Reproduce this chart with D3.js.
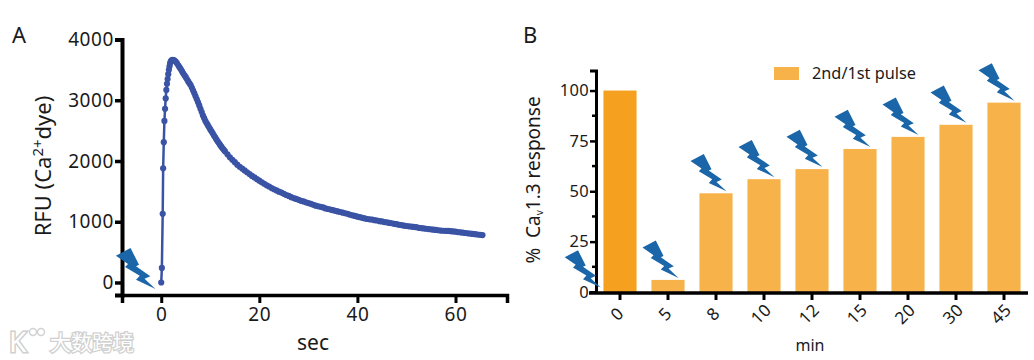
<!DOCTYPE html>
<html>
<head>
<meta charset="utf-8">
<script src="https://cdnjs.cloudflare.com/ajax/libs/d3/7.8.5/d3.min.js"></script>
<style>
	html, body { margin: 0; padding: 0; background: #fff; }
	svg { display: block; }
	text { font-family: "Noto Sans", sans-serif; fill: #1a1a1a; }
</style>
</head>
<body>
<div id="chart"></div>
<script>
// panel A, calcium trace
const traceTime = [0, 0.13, 0.3, 0.39, 0.52, 0.65, 0.78, 0.91, 1.04, 1.17, 1.3, 1.43, 1.56, 1.69, 1.82, 1.95, 2.1, 2.3, 2.6, 2.9,
	3.2, 3.5, 3.75, 4, 4.25, 4.5, 4.75, 5, 5.25, 5.5, 5.75, 6, 6.25, 6.5, 6.75, 7, 7.25, 7.5, 7.75, 8, 8.25, 8.5, 8.75, 9, 9.25, 9.5, 9.75, 10,
	10.25, 10.5, 10.75, 11, 11.25, 11.5, 11.75, 12, 12.25, 12.5, 12.75, 13,
	13.5, 14, 14.5, 15, 15.5, 16, 16.5, 17, 17.5, 18, 18.5, 19, 19.5, 20, 20.5, 21, 21.5, 22, 22.5, 23, 23.5, 24, 24.5, 25,
	25.5, 26, 26.5, 27, 27.5, 28, 28.5, 29, 29.5, 30, 30.5, 31, 31.5, 32, 32.5, 33, 33.5, 34, 34.5, 35,
	35.5, 36, 36.5, 37, 37.5, 38, 38.5, 39, 39.5, 40, 40.5, 41, 41.5, 42, 42.5, 43, 43.5, 44, 44.5, 45,
	45.5, 46, 46.5, 47, 47.5, 48, 48.5, 49, 49.5, 50, 50.5, 51, 51.5, 52, 52.5, 53, 53.5, 54, 54.5, 55,
	55.5, 56, 56.5, 57, 57.5, 58, 58.5, 59, 59.5, 60, 60.5, 61, 61.5, 62, 62.5, 63, 63.5, 64, 64.5, 65, 65.5]
const traceRfu = [0, 240, 1130, 1880, 2310, 2660, 2860, 3030, 3170, 3270, 3350, 3430, 3500, 3560, 3610, 3640, 3655, 3665, 3660, 3640,
	3610, 3570, 3540, 3510, 3475, 3440, 3410, 3380, 3345, 3310, 3280, 3250, 3205, 3160, 3115, 3065, 3015, 2965, 2915, 2860, 2805, 2750, 2705, 2660, 2625, 2590, 2555, 2520,
	2490, 2455, 2420, 2390, 2355, 2325, 2295, 2265, 2235, 2210, 2185, 2160,
	2110, 2060, 2020, 1980, 1940, 1905, 1875, 1845, 1815, 1785, 1755, 1730, 1700, 1676, 1650, 1625, 1600, 1580, 1555, 1535, 1515, 1495, 1480, 1460,
	1440, 1425, 1405, 1390, 1375, 1360, 1345, 1335, 1320, 1308, 1295, 1280, 1265, 1255, 1245, 1235, 1220, 1210, 1200, 1190,
	1180, 1170, 1160, 1150, 1140, 1130, 1115, 1105, 1095, 1083, 1075, 1065, 1055, 1045, 1040, 1035, 1025, 1020, 1010, 1005,
	995, 990, 980, 975, 965, 960, 950, 945, 935, 930, 925, 920, 915, 910, 900, 895, 890, 885, 880, 875,
	870, 865, 860, 855, 852, 850, 848, 845, 840, 836, 830, 825, 820, 815, 810, 805, 800, 795, 790, 785, 780]
const xTicksA = [0, 20, 40, 60]
const yTicksA = [0, 1000, 2000, 3000, 4000]

// panel B, second pulse response
const minutes = ["0", "5", "8", "10", "12", "15", "20", "30", "45"]
const responses = [100, 6, 49, 56, 61, 71, 77, 83, 94]
const yTicksB = [0, 25, 50, 75, 100]
const yMinorB = [12.5, 37.5, 62.5, 87.5]

const BLUE = "#3a53a4"
const BOLT = "#1a66a8"
const BAR = "#f8b24a"
const BAR_FIRST = "#f5a11f"

const svg = d3.select("#chart").append("svg")
	.attr("width", 1034)
	.attr("height", 360)

// tip of the bolt sits at 0,0
const boltPoints = [[-36, -30.3], [-22.7, -37.3], [-15, -22], [-17.7, -20.7], [-4.7, -11.7], [-10, -9.3], [0, 0], [-17.7, -8.3], [-14.3, -12], [-27.7, -20], [-25, -22.7]]

const drawBolt = (x, y, scale) => {
	svg.append("polygon")
		.attr("points", boltPoints.map(p => p.join(",")).join(" "))
		.attr("transform", `translate(${x}, ${y}) scale(${scale})`)
		.attr("fill", BOLT)
}

// thick axis lines, no end caps
const styleAxis = (g, width, fontSize, spacing) => {
	g.select(".domain").attr("stroke", "black").attr("stroke-width", width)
	g.selectAll(".tick line").attr("stroke", "black").attr("stroke-width", width - 0.5)
	g.selectAll("text")
		.attr("font-size", fontSize)
		.style("font-family", '"Noto Sans", sans-serif')
		.style("letter-spacing", spacing + "px")
		.attr("fill", "#1a1a1a")
}

const drawPanelA = () => {
	const xScale = d3.scaleLinear().domain([-8, 70.5]).range([122, 507])
	const yScale = d3.scaleLinear().domain([-206, 4000]).range([295, 39.5])

	svg.append("g")
		.attr("transform", "translate(0, 295)")
		.call(d3.axisBottom(xScale).tickValues(xTicksA).tickSizeOuter(0).tickSize(8).tickPadding(5))
		.call(g => styleAxis(g, 3.5, 19, 0.6))

	svg.append("g")
		.attr("transform", "translate(122, 0)")
		.call(d3.axisLeft(yScale).tickValues(yTicksA).tickFormat(d3.format("d")).tickSizeOuter(0).tickSize(7).tickPadding(1))
		.call(g => styleAxis(g, 4, 19, 0.6))

	const points = traceTime.map((t, i) => ({ t: t, v: traceRfu[i] }))
	const line = d3.line().x(d => xScale(d.t)).y(d => yScale(d.v))

	svg.append("path")
		.attr("d", line(points))
		.attr("fill", "none")
		.attr("stroke", BLUE)
		.attr("stroke-width", 2.5)

	svg.append("g")
		.selectAll("circle")
		.data(points)
		.join("circle")
		.attr("cx", d => xScale(d.t))
		.attr("cy", d => yScale(d.v))
		.attr("r", 3.1)
		.attr("fill", BLUE)

	drawBolt(155.5, 289, 1.1)

	svg.append("text").attr("x", 12).attr("y", 43).attr("font-size", 22).text("A")
	svg.append("text").attr("x", 313).attr("y", 350).attr("font-size", 21)
		.attr("text-anchor", "middle").text("sec")

	const yLabel = svg.append("text")
		.attr("transform", "translate(51, 166) rotate(-90)")
		.attr("font-size", 22)
		.attr("text-anchor", "middle")
	yLabel.append("tspan").text("RFU (Ca")
	yLabel.append("tspan").attr("dy", -8).attr("font-size", 15).text("2+")
	yLabel.append("tspan").attr("dy", 8).text("dye)")
}

const drawPanelB = () => {
	const xScale = d3.scaleBand().domain(minutes).range([596, 1028]).paddingInner(0.31).paddingOuter(0.155)
	const yScale = d3.scaleLinear().domain([0, 110]).range([292, 70.4])

	svg.append("g")
		.selectAll("rect")
		.data(minutes)
		.join("rect")
		.attr("x", d => xScale(d))
		.attr("width", xScale.bandwidth())
		.attr("y", (d, i) => yScale(responses[i]))
		.attr("height", (d, i) => yScale(0) - yScale(responses[i]))
		.attr("fill", (d, i) => i == 0 ? BAR_FIRST : BAR)

	const xAxis = svg.append("g")
		.attr("transform", "translate(0, 293)")
		.call(d3.axisBottom(xScale).tickSizeOuter(0).tickSize(7))
		.call(g => styleAxis(g, 3.5, 17, 0.3))
	xAxis.select(".domain").attr("d", "M589,0H1028")
	xAxis.selectAll("text")
		.attr("text-anchor", "middle")
		.attr("transform", "translate(-3, 21) rotate(-45)")
		.attr("y", 0)
		.attr("dy", "0.35em")

	svg.append("g")
		.attr("transform", "translate(596, 0)")
		.call(d3.axisLeft(yScale).tickValues(yTicksB).tickSizeOuter(0).tickSize(6).tickPadding(1))
		.call(g => styleAxis(g, 3, 16.5, 0.3))

	svg.append("g")
		.selectAll("line")
		.data(yMinorB)
		.join("line")
		.attr("x1", 592)
		.attr("x2", 596)
		.attr("y1", d => yScale(d))
		.attr("y2", d => yScale(d))
		.attr("stroke", "black")
		.attr("stroke-width", 2.5)

	minutes.forEach((m, i) => {
		if (i == 0) return
		drawBolt(xScale(m) + xScale.bandwidth() / 2 + 10.5, yScale(responses[i]) - 2, 1)
	})
	drawBolt(600.7, 287.5, 1)

	svg.append("rect").attr("x", 774).attr("y", 67).attr("width", 25).attr("height", 13).attr("fill", BAR)
	svg.append("text").attr("x", 812).attr("y", 79).attr("font-size", 16.3).text("2nd/1st pulse")

	svg.append("text").attr("x", 523).attr("y", 43).attr("font-size", 22).text("B")
	svg.append("text").attr("x", 810).attr("y", 351).attr("font-size", 16)
		.attr("text-anchor", "middle").text("min")

	const yLabel = svg.append("text")
		.attr("transform", "translate(540, 180) rotate(-90)")
		.attr("font-size", 19)
		.attr("text-anchor", "middle")
	yLabel.append("tspan").attr("xml:space", "preserve").style("white-space", "pre").text("%  Ca")
	yLabel.append("tspan").attr("dy", 3).attr("font-size", 10).text("v")
	yLabel.append("tspan").attr("dy", -3).text("1.3 response")
}

// faint site stamp in the lower left corner
const drawStamp = () => {
	const g = svg.append("g").attr("opacity", 0.8)
	g.append("text")
		.attr("x", 9).attr("y", 352)
		.attr("font-size", 28)
		.style("font-family", '"Noto Sans", sans-serif')
		.style("fill", "#fff")
		.style("paint-order", "stroke")
		.attr("stroke", "#c4c4c4")
		.attr("stroke-width", 3)
		.text("K")
	g.selectAll("circle")
		.data([33, 41])
		.join("circle")
		.attr("cx", d => d)
		.attr("cy", 332)
		.attr("r", 3.5)
		.attr("fill", "none")
		.attr("stroke", "#c8c8c8")
		.attr("stroke-width", 1.5)
	g.append("text")
		.attr("x", 50).attr("y", 350)
		.attr("font-size", 21)
		.style("font-family", '"Noto Sans CJK SC", sans-serif')
		.style("fill", "#fff")
		.style("paint-order", "stroke")
		.attr("stroke", "#c4c4c4")
		.attr("stroke-width", 2.5)
		.text("大数跨境")
}

drawPanelA()
drawPanelB()
drawStamp()
</script>
</body>
</html>
